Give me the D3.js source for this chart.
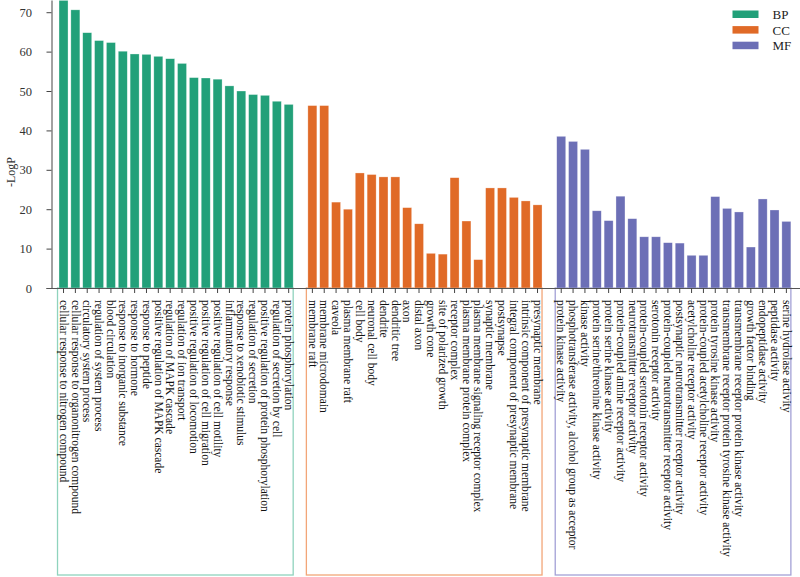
<!DOCTYPE html>
<html><head><meta charset="utf-8">
<script src="https://cdn.jsdelivr.net/npm/d3@7/dist/d3.min.js"></script>
<style>body{margin:0;background:#fff}svg{display:block}</style>
</head><body>
<svg id="c" width="800" height="577"></svg>
<script>
const groups = ["BP", "CC", "MF"];
const bpTerms = ["cellular response to nitrogen compound","cellular response to organonitrogen compound","circulatory system process","regulation of system process","blood circulation","response to inorganic substance","response to hormone","response to peptide","positive regulation of MAPK cascade","regulation of MAPK cascade","regulation of ion transport","positive regulation of locomotion","positive regulation of cell migration","positive regulation of cell motility","inflammatory response","response to xenobiotic stimulus","regulation of secretion","positive regulation of protein phosphorylation","regulation of secretion by cell","protein phosphorylation"];
const bpValues = [73.0,70.6,64.8,62.8,62.3,60.1,59.4,59.3,58.8,58.2,57.0,53.4,53.3,53.0,51.3,50.0,49.1,48.9,47.4,46.6];
const ccTerms = ["membrane raft","membrane microdomain","caveola","plasma membrane raft","cell body","neuronal cell body","dendrite","dendritic tree","axon","distal axon","growth cone","site of polarized growth","receptor complex","plasma membrane protein complex","plasma membrane signaling receptor complex","synaptic membrane","postsynapse","integral component of presynaptic membrane","intrinsic component of presynaptic membrane","presynaptic membrane"];
const ccValues = [46.3,46.3,21.8,20.0,29.2,28.8,28.2,28.2,20.4,16.3,8.8,8.6,28.0,17.0,7.2,25.4,25.4,23.0,22.1,21.1];
const mfTerms = ["protein kinase activity","phosphotransferase activity, alcohol group as acceptor","kinase activity","protein serine/threonine kinase activity","protein serine kinase activity","protein-coupled amine receptor activity","neurotransmitter receptor activity","protein-coupled serotonin receptor activity","serotonin receptor activity","protein-coupled neurotransmitter receptor activity","postsynaptic neurotransmitter receptor activity","acetylcholine receptor activity","protein-coupled acetylcholine receptor activity","protein tyrosine kinase activity","transmembrane receptor protein tyrosine kinase activity","transmembrane receptor protein kinase activity","growth factor binding","endopeptidase activity","peptidase activity","serine hydrolase activity"];
const mfValues = [38.5,37.2,35.2,19.6,17.1,23.3,17.6,13.0,13.0,11.5,11.4,8.3,8.3,23.2,20.2,19.3,10.4,22.6,19.8,16.9];
const yTicks = [0,10,20,30,40,50,60,70];
const yLabel = "-LogP";

const colors = {BP:"#22a079", CC:"#e06a27", MF:"#6c6fb6"};
const boxColors = {BP:"#8fd3bd", CC:"#f2a678", MF:"#a3a1d6"};
const font = "'Liberation Serif','Times New Roman',serif";

const sets = [{g:"BP",t:bpTerms,v:bpValues},{g:"CC",t:ccTerms,v:ccValues},{g:"MF",t:mfTerms,v:mfValues}];
const data = [];
const domain = [];
sets.forEach((s,si)=>{
  s.t.forEach((t,i)=>{ const k=s.g+"|"+t; data.push({key:k,term:t,value:s.v[i],group:s.g}); domain.push(k); });
  if(si<sets.length-1) domain.push("gap"+si);
});

const svg = d3.select("#c");
const baseY = 288;
const x = d3.scaleBand().domain(domain).range([57.6, 792.3]).paddingInner(0.24).paddingOuter(0.12);
const y = d3.scaleLinear().domain([0,73.1]).range([baseY,0]);

// group boxes
sets.forEach(s=>{
  const x0 = x(s.g+"|"+s.t[0]) - 1.5;
  const x1 = x(s.g+"|"+s.t[s.t.length-1]) + x.bandwidth();
  svg.append("rect").attr("x",x0).attr("y",baseY).attr("width",x1-x0).attr("height",575-baseY)
    .attr("fill","none").attr("stroke",boxColors[s.g]).attr("stroke-width",1.3);
});

// bars
svg.append("g").selectAll("rect").data(data).join("rect")
  .attr("x",d=>x(d.key)).attr("width",x.bandwidth())
  .attr("y",d=>y(d.value)).attr("height",d=>baseY-y(d.value))
  .attr("fill",d=>colors[d.group]).attr("stroke","#ffffff").attr("stroke-opacity",0.5).attr("stroke-width",0.6);

// y axis
const ya = svg.append("g").attr("transform","translate(51.5,0)")
  .call(d3.axisLeft(y).tickValues(yTicks).tickSize(5).tickSizeOuter(0));
ya.select(".domain").attr("stroke","#444");
ya.selectAll(".tick line").attr("stroke","#444");
ya.selectAll("text").attr("font-family",font).attr("font-size",12.5).attr("fill","#333").attr("x",-19.5);

// x axis
const xa = svg.append("g").attr("transform",`translate(0,${baseY})`)
  .call(d3.axisBottom(x).tickValues(data.map(d=>d.key)).tickSize(5).tickSizeOuter(0)
    .tickFormat(k=>k.split("|")[1]));
xa.select(".domain").attr("d","M46.5,0.5H800").attr("stroke","#555");
xa.selectAll(".tick line").attr("stroke","#444");
const xt = xa.selectAll("text").attr("font-family",font).attr("font-size",12).attr("fill","#111")
  .attr("transform","rotate(90)").attr("text-anchor","start").attr("x",12).attr("y",0).attr("dy","0.33em");
// fit the longest label to the reference's length (~257px)
let maxLen = 0;
xt.each(function(){ maxLen = Math.max(maxLen, this.getComputedTextLength()); });
if (maxLen > 0) xt.attr("font-size", 12 * 257 / maxLen);

// y label
svg.append("text").attr("transform","translate(15,172) rotate(-90)").attr("text-anchor","middle")
  .attr("font-family",font).attr("font-size",12).attr("fill","#333").text(yLabel);

// legend
const lg = svg.append("g");
groups.forEach((g,i)=>{
  lg.append("rect").attr("x",732.5).attr("y",10.5+i*15.6).attr("width",26).attr("height",7.5).attr("fill",colors[g]);
  lg.append("text").attr("x",772.5).attr("y",14.5+i*15.6).attr("dy","0.35em").attr("font-family",font)
    .attr("font-size",13).attr("fill","#222").text(g);
});
</script>
</body></html>
